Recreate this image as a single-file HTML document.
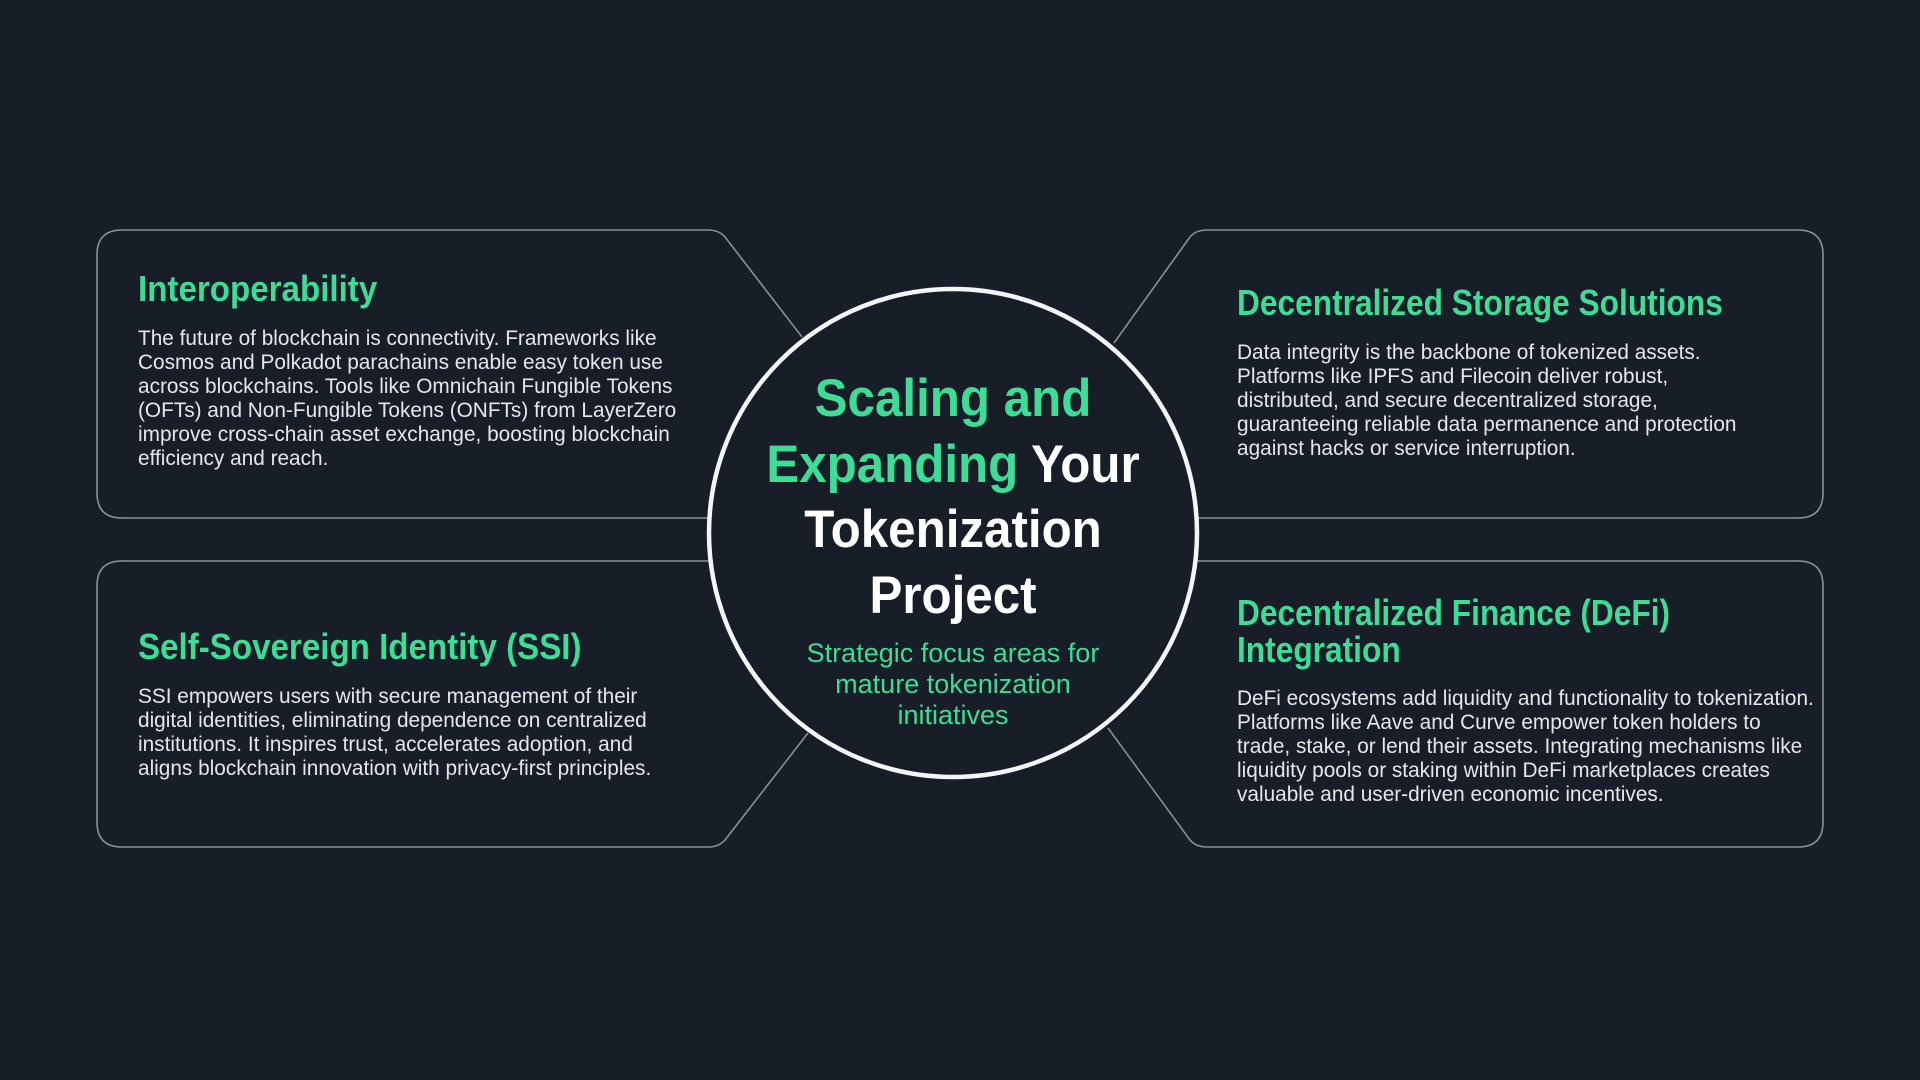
<!DOCTYPE html>
<html><head><meta charset="utf-8"><style>
html,body{margin:0;padding:0;}
body{width:1920px;height:1080px;background:#181e27;position:relative;overflow:hidden;font-family:"Liberation Sans",sans-serif;}
svg{position:absolute;left:0;top:0;}
.h{position:absolute;font-family:"Liberation Sans",sans-serif;font-weight:bold;color:#3ddc97;font-size:36px;line-height:37px;white-space:nowrap;transform:scaleX(0.92);transform-origin:0 0;}
.b{position:absolute;color:#e4e7eb;font-size:20.8px;line-height:24px;white-space:nowrap;}
.c{position:absolute;left:653px;width:600px;text-align:center;font-weight:bold;font-size:53px;line-height:65.5px;color:#fff;top:366px;transform:scaleX(0.93);transform-origin:50% 0;}
.g{color:#3ddc97;}
.s{position:absolute;left:703px;width:500px;text-align:center;color:#3ddc97;font-size:27px;line-height:31px;top:638px;}
</style></head><body>
<svg width="1920" height="1080" viewBox="0 0 1920 1080">
<g fill="none" stroke="#8a9098" stroke-width="1.6">
<path d="M802 337 L725 237 Q719 230 708 230 L122 230 Q97 230 97 255 L97 493 Q97 518 122 518 L760 518"/>
<path d="M808 733 L725 840 Q719 847 708 847 L122 847 Q97 847 97 822 L97 586 Q97 561 122 561 L760 561"/>
<path d="M1114 343 L1190 237 Q1196 230 1207 230 L1798 230 Q1823 230 1823 255 L1823 493 Q1823 518 1798 518 L1150 518"/>
<path d="M1108 728 L1190 840 Q1196 847 1207 847 L1798 847 Q1823 847 1823 822 L1823 586 Q1823 561 1798 561 L1150 561"/>
</g>
<circle cx="953" cy="533" r="244" fill="#181e27" stroke="#f4f5f6" stroke-width="4.5"/>
</svg>

<div class="h" style="left:138px;top:270px;">Interoperability</div>
<div class="b" style="left:138px;top:327px;">The future of blockchain is connectivity. Frameworks like<br>Cosmos and Polkadot parachains enable easy token use<br>across blockchains. Tools like Omnichain Fungible Tokens<br>(OFTs) and Non-Fungible Tokens (ONFTs) from LayerZero<br>improve cross-chain asset exchange, boosting blockchain<br>efficiency and reach.</div>

<div class="h" style="left:138px;top:628px;">Self-Sovereign Identity (SSI)</div>
<div class="b" style="left:138px;top:685px;">SSI empowers users with secure management of their<br>digital identities, eliminating dependence on centralized<br>institutions. It inspires trust, accelerates adoption, and<br>aligns blockchain innovation with privacy-first principles.</div>

<div class="h" style="left:1237px;top:284px;transform:scaleX(0.88);">Decentralized Storage Solutions</div>
<div class="b" style="left:1237px;top:341px;">Data integrity is the backbone of tokenized assets.<br>Platforms like IPFS and Filecoin deliver robust,<br>distributed, and secure decentralized storage,<br>guaranteeing reliable data permanence and protection<br>against hacks or service interruption.</div>

<div class="h" style="left:1237px;top:594px;transform:scaleX(0.88);">Decentralized Finance (DeFi)<br>Integration</div>
<div class="b" style="left:1237px;top:687px;">DeFi ecosystems add liquidity and functionality to tokenization.<br>Platforms like Aave and Curve empower token holders to<br>trade, stake, or lend their assets. Integrating mechanisms like<br>liquidity pools or staking within DeFi marketplaces creates<br>valuable and user-driven economic incentives.</div>

<div class="c"><span class="g">Scaling and</span><br><span class="g">Expanding</span> Your<br>Tokenization<br>Project</div>
<div class="s">Strategic focus areas for<br>mature tokenization<br>initiatives</div>
</body></html>
